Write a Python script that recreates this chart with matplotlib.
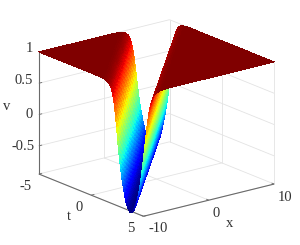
import numpy as np
import matplotlib
matplotlib.use("Agg")
import matplotlib.pyplot as plt

x_ticks = [-10, 0, 10]
t_ticks = [-5, 0, 5]
v_ticks = [-0.5, 0, 0.5, 1]
v_floor = -0.95
# trough profile: distance from the trough centre vs height
profile_offset = [0, 0.25, 0.5, 0.75, 1, 1.25, 1.5, 1.75, 2, 2.25, 2.5, 2.75, 3, 3.25, 3.5, 3.75, 4, 4.5, 5, 5.5, 6.5, 40]
profile_value = [-0.98, -0.965, -0.93, -0.88, -0.82, -0.72, -0.60, -0.47, -0.32, -0.14, 0.06, 0.30, 0.52, 0.69, 0.81, 0.88, 0.93, 0.97, 0.99, 0.997, 1.0, 1.0]
trough_x_at_t0 = -2.4
trough_speed = -2.0

FS = 10.5
GRID = '#e3e3e3'
AXC = '#6a6a6a'
TXT = '#333333'
plt.rcParams['font.family'] = ['Liberation Serif']

fig = plt.figure(figsize=(3.0, 2.45), dpi=100, facecolor='white')
ax = fig.add_axes([30.7/300, 1.2/245, 245/300, 245/245], projection='3d', proj_type='ortho')
ax.set_box_aspect((165, 169, 128), zoom=1.07)
ax.view_init(elev=18.4, azim=-128)
ax.set_xlim(-10, 10)
ax.set_ylim(5, -5)
ax.set_zlim(v_floor, 1)
ax.set_axis_off()
ax.computed_zorder = False
ax.patch.set_alpha(0)

xs = np.linspace(-10, 10, 281)
ts = np.linspace(-5, 5, 181)
X, T = np.meshgrid(xs, ts)
V = np.interp(np.abs(X - (trough_x_at_t0 + trough_speed * T)), profile_offset, profile_value)

def ln(a, b, c, color=GRID, lw=0.6, z=1):
    ax.plot(a, b, c, color=color, lw=lw, zorder=z, solid_capstyle='butt')

x0, x1 = x_ticks[0], x_ticks[-1]
t0, t1 = t_ticks[0], t_ticks[-1]
for v in v_ticks:
    ln([x0, x1], [t0, t0], [v, v])
    ln([x1, x1], [t0, t1], [v, v])
for x in x_ticks:
    ln([x, x], [t0, t0], [v_floor, 1])
    ln([x, x], [t0, t1], [v_floor, v_floor])
for t in t_ticks:
    ln([x1, x1], [t, t], [v_floor, 1])
    ln([x0, x1], [t, t], [v_floor, v_floor])

ln([x0, x0], [t0, t0], [v_floor, 1], AXC, 0.8, 3)
ln([x0, x0], [t0, t1], [v_floor, v_floor], AXC, 0.8, 3)
ln([x0, x1], [t1, t1], [v_floor, v_floor], AXC, 0.8, 3)
for v in v_ticks:
    ln([x0, x0 + 0.5], [t0, t0], [v, v], AXC, 0.6, 3)
for t in t_ticks:
    ln([x0, x0 + 0.5], [t, t], [v_floor, v_floor], AXC, 0.6, 3)
for x in x_ticks:
    ln([x, x], [t1, t1 - 0.25], [v_floor, v_floor], AXC, 0.6, 3)

ax.plot_surface(X, T, V, rstride=1, cstride=1, cmap='jet', vmin=min(profile_value), vmax=1,
                linewidth=0, antialiased=False, shade=False, zorder=4)

def label(px, py, s):
    fig.text(px/300, 1 - py/245, s, ha='center', va='center', fontsize=FS, color=TXT)

for px, py, s in [(29, 49, '1'), (24, 81, '0.5'), (29, 114, '0'), (23, 146, '-0.5'), (7, 106, 'v'),
                  (26, 186, '-5'), (79, 207, '0'), (131, 228, '5'), (69, 216, 't'),
                  (158, 228, '-10'), (216, 213, '0'), (285, 197, '10'), (230, 223, 'x')]:
    label(px, py, s)

fig.savefig('out.png', dpi=100)
